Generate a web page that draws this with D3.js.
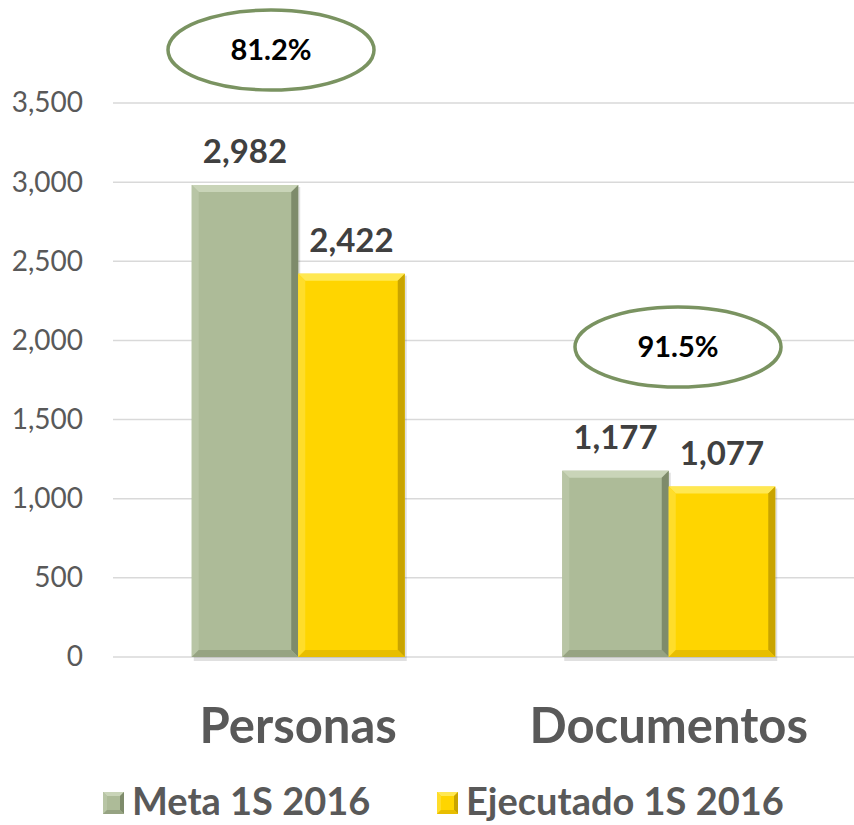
<!DOCTYPE html>
<html>
<head>
<meta charset="utf-8">
<script src="https://cdn.jsdelivr.net/npm/d3@7"></script>
<style>
  body { margin: 0; background: #fff; }
  svg { display: block; font-family: Lato, "Open Sans", sans-serif; }
</style>
</head>
<body>
<div id="chart"></div>
<script>
const categories = ["Personas", "Documentos"];
const seriesNames = ["Meta 1S 2016", "Ejecutado 1S 2016"];
const metaValues = [2982, 1177];
const ejecutadoValues = [2422, 1077];
const percentLabels = ["81.2%", "91.5%"];
const yTicks = [0, 500, 1000, 1500, 2000, 2500, 3000, 3500];

const W = 854, H = 825;
const margin = { top: 103, right: 0, bottom: 168, left: 113 };
const width = W - margin.left - margin.right;
const height = H - margin.top - margin.bottom;

const palette = [
  { face: "#adbb98", top: "#c9d4b8", left: "#b8c5a5", right: "#7e8b6b", bottom: "#96a382" },
  { face: "#ffd500", top: "#ffe852", left: "#ffdd2a", right: "#c9a400", bottom: "#e8be00" }
];

const svg = d3.select("#chart").append("svg")
  .attr("width", W).attr("height", H);

const g = svg.append("g")
  .attr("transform", "translate(" + margin.left + "," + margin.top + ")");

const x0 = d3.scaleBand().domain(categories).range([0, width]).paddingInner(0).paddingOuter(0);
const x1 = d3.scaleBand().domain(seriesNames).range([0, 213]);
const y = d3.scaleLinear().domain([0, 3500]).range([height, 0]);

// gridlines
g.selectAll(".grid").data(yTicks).enter().append("line")
  .attr("x1", 0).attr("x2", width)
  .attr("y1", d => y(d)).attr("y2", d => y(d))
  .attr("stroke", "#d9d9d9").attr("stroke-width", 1.5);

// y axis labels
const yAxis = d3.axisLeft(y).tickValues(yTicks).tickFormat(d3.format(",")).tickSize(0).tickPadding(30);
const gy = g.append("g").call(yAxis);
gy.select(".domain").remove();
gy.selectAll("text").attr("font-size", 28).attr("fill", "#595959")
  .attr("font-family", "Lato, sans-serif");

const rows = categories.map((c, i) => ({ cat: c, vals: [metaValues[i], ejecutadoValues[i]] }));

function bevelBar(sel, x, yTop, w, h, col, b) {
  sel.append("rect").attr("x", x).attr("y", yTop).attr("width", w).attr("height", h).attr("fill", col.face);
  sel.append("polygon").attr("points", [[x, yTop], [x + w, yTop], [x + w - b, yTop + b], [x + b, yTop + b]].join(" ")).attr("fill", col.top);
  sel.append("polygon").attr("points", [[x, yTop], [x + b, yTop + b], [x + b, yTop + h - b], [x, yTop + h]].join(" ")).attr("fill", col.left);
  sel.append("polygon").attr("points", [[x + w, yTop], [x + w, yTop + h], [x + w - b, yTop + h - b], [x + w - b, yTop + b]].join(" ")).attr("fill", col.right);
  sel.append("polygon").attr("points", [[x, yTop + h], [x + w, yTop + h], [x + w - b, yTop + h - b], [x + b, yTop + h - b]].join(" ")).attr("fill", col.bottom);
}

rows.forEach(r => {
  const gx = x0(r.cat) + (x0.bandwidth() - 213) / 2;
  r.vals.forEach((v, j) => {
    const bx = gx + x1(seriesNames[j]);
    const bw = x1.bandwidth();
    const bar = g.append("g");
    // soft shadow
    bar.append("rect").attr("x", bx + 2).attr("y", y(v) + 2).attr("width", bw).attr("height", height - y(v) + 2)
      .attr("fill", "#000").attr("opacity", 0.12);
    bevelBar(bar, bx, y(v), bw, height - y(v), palette[j], 7);
    g.append("text")
      .attr("x", bx + bw / 2).attr("y", y(v) - 22)
      .attr("text-anchor", "middle")
      .attr("font-size", 33).attr("font-weight", 700).attr("fill", "#404040")
      .text(d3.format(",")(v));
  });
});

// category labels
g.selectAll(".cat").data(categories).enter().append("text")
  .attr("x", d => x0(d) + x0.bandwidth() / 2)
  .attr("y", height + 86)
  .attr("text-anchor", "middle")
  .attr("font-size", 49).attr("font-weight", 700).attr("fill", "#595959")
  .text(d => d);

// percent ellipses
const ellipses = [
  { cx: 271 - margin.left, cy: 50 - margin.top },
  { cx: 678 - margin.left, cy: 347 - margin.top }
];
percentLabels.forEach((p, i) => {
  const e = ellipses[i];
  g.append("ellipse").attr("cx", e.cx).attr("cy", e.cy).attr("rx", 103).attr("ry", 40)
    .attr("fill", "#fff").attr("stroke", "#7a9361").attr("stroke-width", 3.5);
  g.append("text").attr("x", e.cx).attr("y", e.cy + 10)
    .attr("text-anchor", "middle").attr("font-size", 29).attr("font-weight", 700).attr("fill", "#000")
    .text(p);
});

// legend
const legend = svg.append("g").attr("transform", "translate(0,803)");
const legendX = [103, 437];
seriesNames.forEach((s, i) => {
  const lg = legend.append("g").attr("transform", "translate(" + legendX[i] + ",0)");
  bevelBar(lg, 0, -11, 21, 22, palette[i], 4);
  lg.append("text").attr("x", 29).attr("y", 12)
    .attr("font-size", 38).attr("font-weight", 700).attr("fill", "#595959")
    .text(s);
});
</script>
</body>
</html>
